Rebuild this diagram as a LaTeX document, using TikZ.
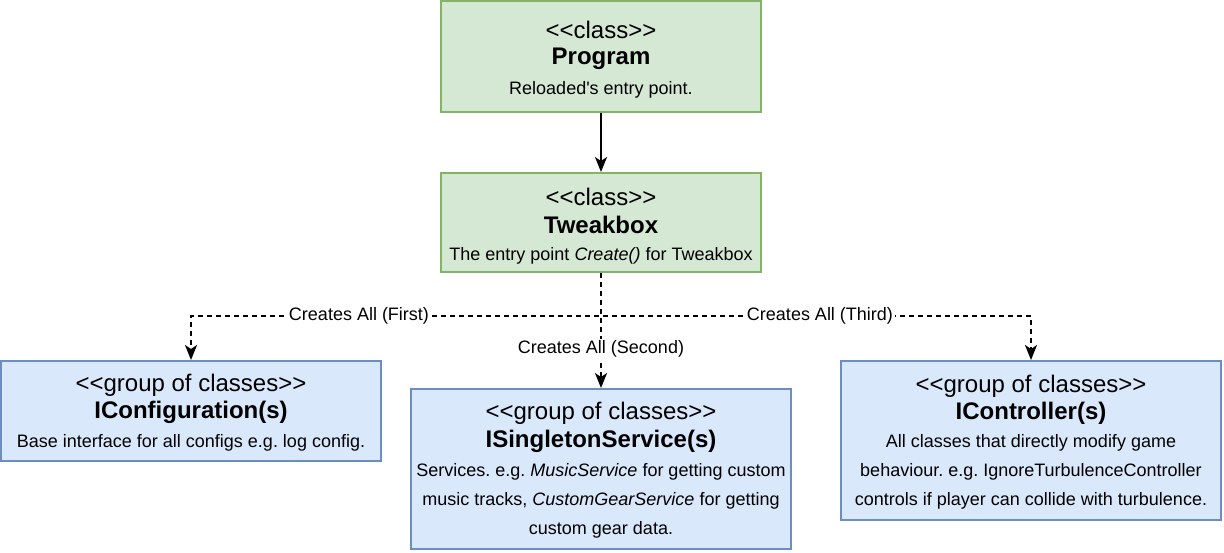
\documentclass[tikz,border=0pt]{standalone}
\usepackage{fontspec}
\setmainfont{Liberation Sans}[Ligatures=TeXOff]
\usetikzlibrary{arrows.meta}
\definecolor{gfill}{HTML}{D5E8D4}
\definecolor{gdraw}{HTML}{82B366}
\definecolor{bfill}{HTML}{DAE8FC}
\definecolor{bdraw}{HTML}{6C8EBF}
\frenchspacing
\begin{document}
\begin{tikzpicture}[x=1pt,y=-1pt,
  gbox/.style={draw=gdraw,fill=gfill,line width=2pt,inner sep=0pt},
  bbox/.style={draw=bdraw,fill=bfill,line width=2pt,inner sep=0pt},
  stereo/.style={inner sep=0pt,font=\fontsize{24}{28}\selectfont},
  ttl/.style={inner sep=0pt,font=\fontsize{24}{28}\selectfont\bfseries},
  desc/.style={inner sep=0pt,align=center,font=\fontsize{18}{29}\selectfont},
  lbl/.style={fill=white,inner sep=1.5pt,font=\fontsize{18}{22}\selectfont},
  conn/.style={line width=2pt,-{Stealth[length=15pt,width=12pt,inset=4pt]}},
  dconn/.style={conn,dash pattern=on 5pt off 4pt}]
\useasboundingbox (0,0) rectangle (1224,552);
% boxes
\node[gbox,minimum width=320pt,minimum height=111pt] (prog) at (601,56.5) {};
\node[gbox,minimum width=320pt,minimum height=99pt] (tweak) at (601,222.5) {};
\node[bbox,minimum width=380pt,minimum height=100pt] (cfg) at (191,411) {};
\node[bbox,minimum width=380pt,minimum height=160pt] (svc) at (601,469) {};
\node[bbox,minimum width=380pt,minimum height=159pt] (ctrl) at (1031,440.5) {};
% texts
\node[stereo] (progst) at (601,30) {<<class>>};
\node[ttl] (progt) at (601,58.5) {Program};
\node[desc] (progd) at (601,90) {Reloaded's entry point.};
\node[stereo] (tweakst) at (601,197) {<<class>>};
\node[ttl] (tweakt) at (601,224.5) {Tweakbox};
\node[desc] (tweakd) at (601,256) {The entry point \textit{Create()} for Tweakbox};
\node[stereo] (cfgst) at (191,385) {<<group of classes>>};
\node[ttl] (cfgt) at (191,412.5) {IConfiguration(s)};
\node[desc] (cfgd) at (191,443) {Base interface for all configs e.g. log config.};
\node[stereo] (svcst) at (601,413) {<<group of classes>>};
\node[ttl] (svct) at (601,441.5) {ISingletonService(s)};
\node[desc,anchor=north] (svcd) at (601,463) {Services. e.g. \textit{MusicService} for getting custom\\music tracks, \textit{CustomGearService} for getting\\custom gear data.};
\node[stereo] (ctrlst) at (1031,386) {<<group of classes>>};
\node[ttl] (ctrlt) at (1031,413.5) {IController(s)};
\node[desc,anchor=north] (ctrld) at (1031,434) {All classes that directly modify game\\behaviour. e.g. IgnoreTurbulenceController\\controls if player can collide with turbulence.};
% connectors
\coordinate (bus) at (601,316);
\draw[conn] (prog.south) -- (tweak.north);
\draw[dconn] (tweak.south) -- (bus) -| (cfg.north);
\draw[dconn] (tweak.south) -- (bus) -| (ctrl.north);
\draw[dconn] (tweak.south) -- (svc.north);
\node[lbl] (l1) at (359,316) {Creates All (First)};
\node[lbl] (l2) at (601,349) {Creates All (Second)};
\node[lbl] (l3) at (820,316) {Creates All (Third)};
\end{tikzpicture}
\end{document}
